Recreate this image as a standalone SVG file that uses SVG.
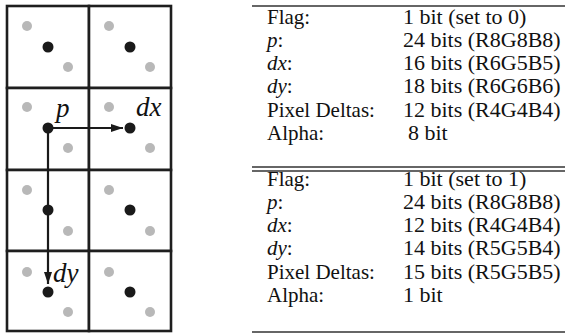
<svg xmlns="http://www.w3.org/2000/svg" width="571" height="334" viewBox="0 0 571 334">
<style>
.cell{fill:#fff;stroke:#1e1e1e;stroke-width:2.6}
.b{fill:#1a1a1a}
.g{fill:#b8b8b8}
.t{font-family:"Liberation Serif",serif;font-size:21px;fill:#111}
.v{font-size:22px}
.lbl{font-family:"Liberation Serif",serif;font-size:27px;font-style:italic;fill:#111}
.rule{stroke:#333;stroke-width:1.6}
.conn{stroke:#1a1a1a;stroke-width:2.2;fill:none}
</style>
<defs>
<marker id="ah" viewBox="0 0 12 8" refX="12" refY="4" markerWidth="12" markerHeight="8" markerUnits="userSpaceOnUse" orient="auto">
<path d="M0,0 L12,4 L0,8 Z" fill="#1a1a1a"/>
</marker>
</defs>
<rect width="571" height="334" fill="#fff"/>
<g id="cell-0-0"><rect class="cell" x="7" y="6" width="82" height="82"/><circle class="g" cx="27" cy="26" r="5"/><circle class="b" cx="48" cy="47" r="5.5"/><circle class="g" cx="68" cy="67" r="5"/></g>
<g id="cell-0-1"><rect class="cell" x="89" y="6" width="82" height="82"/><circle class="g" cx="109" cy="26" r="5"/><circle class="b" cx="130" cy="47" r="5.5"/><circle class="g" cx="150" cy="67" r="5"/></g>
<g id="cell-1-0"><rect class="cell" x="7" y="88" width="82" height="82"/><circle class="g" cx="27" cy="107" r="5"/><circle class="g" cx="68" cy="148" r="5"/></g>
<g id="cell-1-1"><rect class="cell" x="89" y="88" width="82" height="82"/><circle class="g" cx="109" cy="107" r="5"/><circle class="g" cx="150" cy="148" r="5"/></g>
<g id="cell-2-0"><rect class="cell" x="7" y="170" width="82" height="81"/><circle class="g" cx="27" cy="190" r="5"/><circle class="g" cx="68" cy="231" r="5"/></g>
<g id="cell-2-1"><rect class="cell" x="89" y="170" width="82" height="81"/><circle class="g" cx="109" cy="190" r="5"/><circle class="b" cx="130" cy="210" r="5.5"/><circle class="g" cx="150" cy="231" r="5"/></g>
<g id="cell-3-0"><rect class="cell" x="7" y="251" width="82" height="80"/><circle class="g" cx="27" cy="272" r="5"/><circle class="g" cx="68" cy="312" r="5"/></g>
<g id="cell-3-1"><rect class="cell" x="89" y="251" width="82" height="80"/><circle class="g" cx="109" cy="272" r="5"/><circle class="b" cx="130" cy="292" r="5.5"/><circle class="g" cx="150" cy="312" r="5"/></g>
<g id="connectors">
<path class="conn" d="M48,128 H123" marker-end="url(#ah)"/>
<path class="conn" d="M48,128 V284" marker-end="url(#ah)"/>
</g>
<g id="node-p"><circle class="b" cx="48" cy="128" r="5.5"/><text class="lbl" x="56" y="117">p</text></g>
<g id="node-dx"><circle class="b" cx="130" cy="128" r="5.5"/><text class="lbl" x="136" y="116">dx</text></g>
<g id="node-mid"><circle class="b" cx="48" cy="210" r="5.5"/></g>
<g id="node-dy"><circle class="b" cx="48" cy="292" r="5.5"/><text class="lbl" x="53" y="282">dy</text></g>
<g id="table">
<line class="rule" x1="252" y1="6" x2="565" y2="6"/>
<line class="rule" x1="252" y1="167" x2="565" y2="167"/>
<line class="rule" x1="252" y1="171" x2="565" y2="171"/>
<line class="rule" x1="252" y1="332" x2="565" y2="332"/>
<text class="t" x="267" y="24">Flag:</text><text class="t v" x="403" y="24">1 bit (set to 0)</text>
<text class="t" x="267" y="47"><tspan font-style="italic">p</tspan>:</text><text class="t v" x="403" y="47">24 bits (R8G8B8)</text>
<text class="t" x="267" y="70"><tspan font-style="italic">dx</tspan>:</text><text class="t v" x="403" y="70">16 bits (R6G5B5)</text>
<text class="t" x="267" y="93"><tspan font-style="italic">dy</tspan>:</text><text class="t v" x="403" y="93">18 bits (R6G6B6)</text>
<text class="t" x="267" y="117">Pixel Deltas:</text><text class="t v" x="403" y="117">12 bits (R4G4B4)</text>
<text class="t" x="267" y="140">Alpha:</text><text class="t v" x="408" y="140">8 bit</text>
<text class="t" x="267" y="186">Flag:</text><text class="t v" x="403" y="186">1 bit (set to 1)</text>
<text class="t" x="267" y="209"><tspan font-style="italic">p</tspan>:</text><text class="t v" x="403" y="209">24 bits (R8G8B8)</text>
<text class="t" x="267" y="232"><tspan font-style="italic">dx</tspan>:</text><text class="t v" x="403" y="232">12 bits (R4G4B4)</text>
<text class="t" x="267" y="255"><tspan font-style="italic">dy</tspan>:</text><text class="t v" x="403" y="255">14 bits (R5G5B4)</text>
<text class="t" x="267" y="279">Pixel Deltas:</text><text class="t v" x="403" y="279">15 bits (R5G5B5)</text>
<text class="t" x="267" y="302">Alpha:</text><text class="t v" x="403" y="302">1 bit</text>
</g>
</svg>
